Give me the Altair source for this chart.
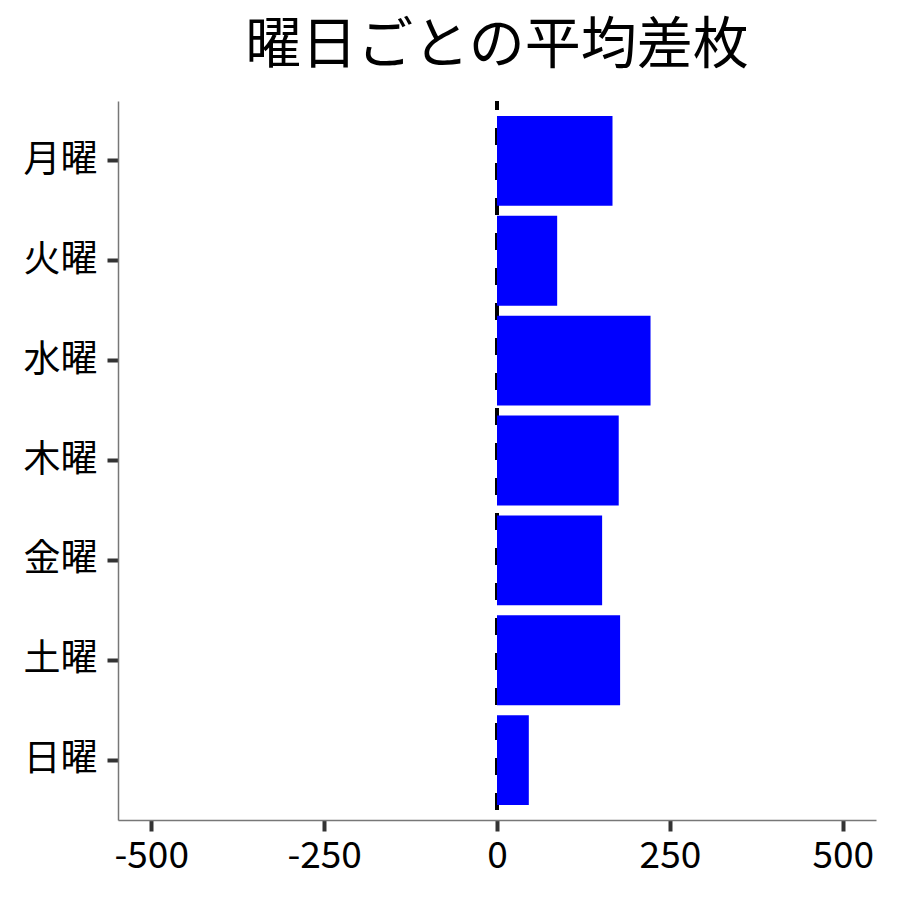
import altair as alt
import pandas as pd

days = ["月曜", "火曜", "水曜", "木曜", "金曜", "土曜", "日曜"]
avg_diff = [167, 87, 222, 176, 152, 178, 46]
x_ticks = [-500, -250, 0, 250, 500]
zero_line = [0]

df = pd.DataFrame({"day": days, "value": avg_diff})
zdf = pd.DataFrame({"x": zero_line})

FONT = "Noto Sans CJK JP"

xscale = alt.Scale(domain=[-548, 548], nice=False, zero=False)

bars = alt.Chart(df).mark_bar(color="#0000ff").encode(
    y=alt.Y("day:N", sort=days,
            scale=alt.Scale(paddingInner=0.1, paddingOuter=0.15),
            axis=alt.Axis(title=None, labelPadding=10)),
    x=alt.X("value:Q", scale=xscale,
            axis=alt.Axis(title=None, values=x_ticks, labelPadding=7,
                          labelExpr="replace(datum.label, '\u2212', '-')")),
)

rule = alt.Chart(zdf).mark_rule(
    color="black", strokeWidth=4, strokeDash=[17, 18], strokeDashOffset=8
).encode(x=alt.X("x:Q", scale=xscale))

chart = alt.layer(rule, bars).properties(
    width=758,
    height=719,
    title=alt.TitleParams("曜日ごとの平均差枚", fontSize=56, font=FONT,
                          fontWeight="normal", color="black", anchor="middle",
                          offset=24),
    autosize=alt.AutoSizeParams(type="none"),
    padding={"left": 110, "top": 93, "right": 10, "bottom": 60},
).configure_view(stroke=None).configure_axis(
    grid=False,
    domainColor="#777777",
    domainWidth=1.5,
    tickColor="#333333",
    tickWidth=4,
    tickSize=11,
    labelFontSize=37,
    labelFont=FONT,
    labelColor="black",
)

chart.save("out.html", embed_options={"renderer": "svg", "actions": False})
